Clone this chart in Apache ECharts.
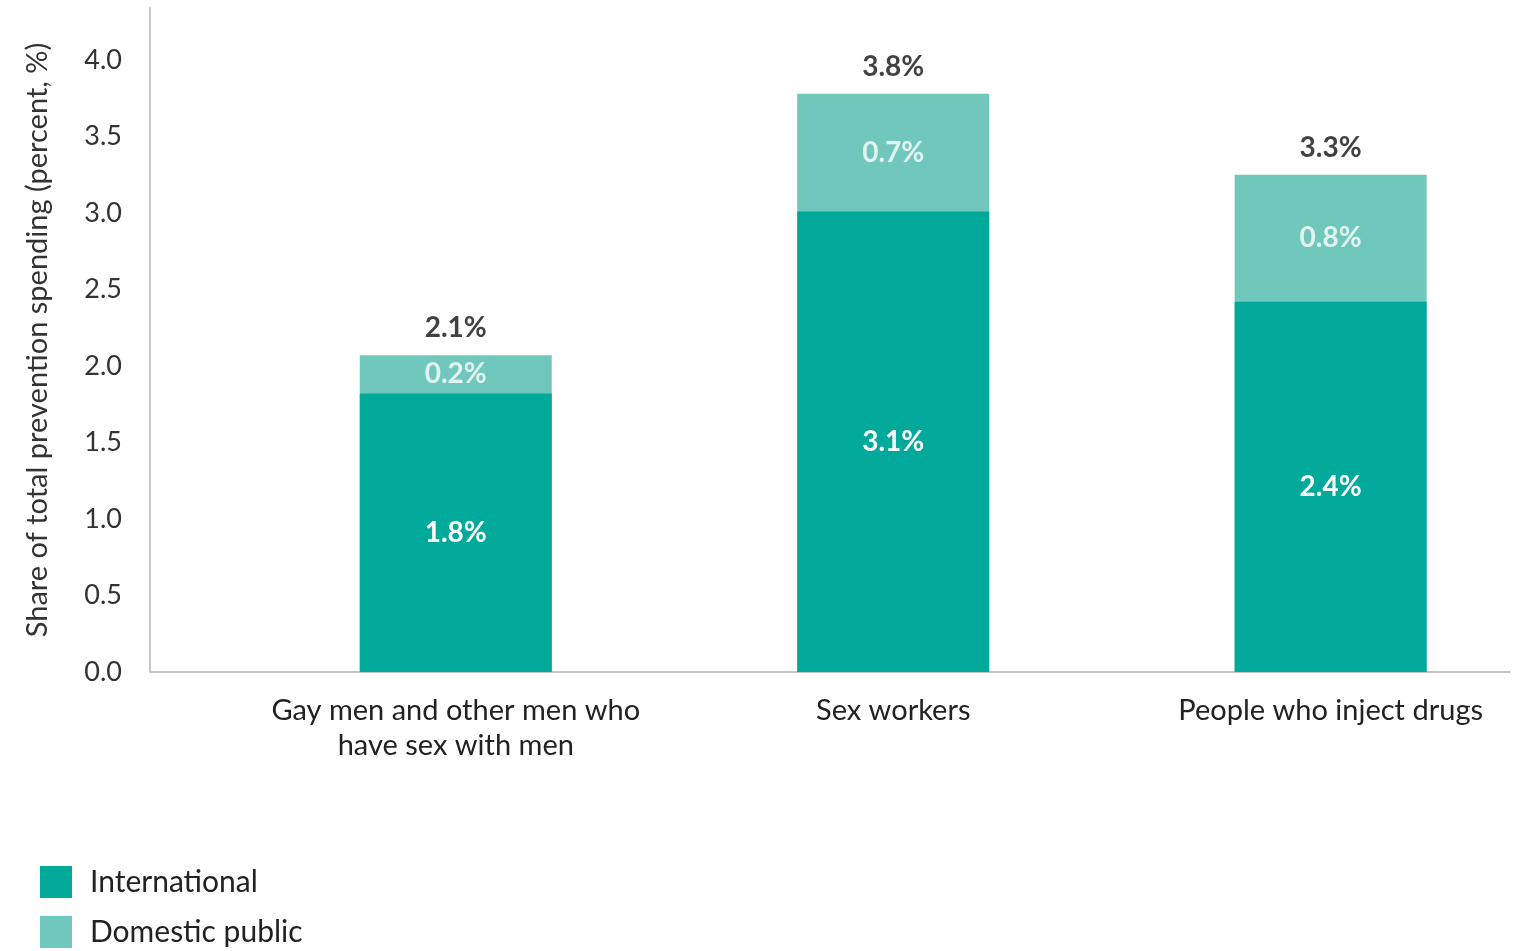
<!DOCTYPE html>
<html>
<head>
<meta charset="utf-8">
<script src="https://cdn.jsdelivr.net/npm/echarts@6/dist/echarts.min.js"></script>
<style>
  html, body { margin: 0; padding: 0; background: #fff; }
  #chart { width: 1518px; height: 951px; }
</style>
</head>
<body>
<div id="chart"></div>
<script>
// data
const categories = ["Gay men and other men who\nhave sex with men", "Sex workers", "People who inject drugs"];
const international = [1.82, 3.01, 2.42];
const domestic = [0.25, 0.77, 0.83];
const intlLabels = ["1.8%", "3.1%", "2.4%"];
const domLabels = ["0.2%", "0.7%", "0.8%"];
const totalLabels = ["2.1%", "3.8%", "3.3%"];
const yTicks = [0, 0.5, 1, 1.5, 2, 2.5, 3, 3.5, 4];

const FONT = "Lato, 'Noto Sans', sans-serif";
const C_INTL = "#00A99A";
const C_DOM = "#70C8BD";

let myChart = echarts.init(document.getElementById("chart"));

const pos = categories.map((c, i) => i);
const totals = international.map((v, i) => v + domestic[i]);

const barLabel = {
	show: true,
	color: "#fff",
	fontSize: 28,
	fontWeight: "bold",
	fontFamily: FONT,
};

let option = {
	animation: false,
	textStyle: { fontFamily: FONT },
	grid: {
		left: 150,
		right: 8,
		top: 8,
		bottom: 279,
	},
	legend: {
		orient: "vertical",
		left: 40,
		top: 866,
		padding: 0,
		itemWidth: 32,
		itemHeight: 32,
		itemGap: 18,
		icon: "rect",
		data: ["International", "Domestic public"],
		textStyle: {
			fontFamily: FONT,
			fontSize: 30,
			color: "#222",
			padding: [0, 0, 0, 13],
		},
	},
	xAxis: {
		type: "value",
		min: -0.699,
		max: 2.41,
		splitLine: { show: false },
		axisTick: { show: false },
		axisLine: { onZero: false, lineStyle: { color: "#c6c6c6", width: 2 } },
		axisLabel: {
			customValues: pos,
			margin: 21,
			fontSize: 29,
			lineHeight: 35,
			color: "#222",
			fontFamily: FONT,
			formatter: (v) => categories[Math.round(v)] || "",
		},
	},
	yAxis: {
		type: "value",
		min: 0,
		max: 4.34,
		interval: 0.5,
		name: "Share of total prevention spending (percent, %)",
		nameLocation: "middle",
		nameGap: 98,
		nameTextStyle: { fontSize: 29, color: "#333", fontFamily: FONT },
		splitLine: { show: false },
		axisTick: { show: false },
		axisLine: { show: true, onZero: false, lineStyle: { color: "#c6c6c6", width: 2 } },
		axisLabel: {
			customValues: yTicks,
			margin: 28,
			fontSize: 27,
			color: "#333",
			fontFamily: FONT,
			formatter: (v) => v.toFixed(1),
		},
	},
	series: [
		{
			// domestic sits on top of international: drawn as full stack height, international drawn over it
			name: "Domestic public",
			type: "bar",
			barWidth: 192,
			itemStyle: { color: C_DOM },
			data: totals.map((v, i) => [pos[i], v]),
			z: 2,
		},
		{
			name: "International",
			type: "bar",
			barWidth: 192,
			barGap: "-100%",
			itemStyle: { color: C_INTL },
			data: international.map((v, i) => [pos[i], v]),
			z: 3,
			label: Object.assign({}, barLabel, {
				position: "inside",
				formatter: (p) => intlLabels[p.dataIndex],
			}),
		},
		{
			// domestic segment labels, centred in each segment
			name: "domLabel",
			type: "scatter",
			symbolSize: 0,
			z: 5,
			data: domestic.map((v, i) => [pos[i], international[i] + v / 2]),
			label: Object.assign({}, barLabel, {
				position: "inside",
				formatter: (p) => domLabels[p.dataIndex],
			}),
		},
		{
			// totals above bars
			name: "Total",
			type: "scatter",
			symbolSize: 0,
			z: 5,
			data: totals.map((v, i) => [pos[i], v]),
			label: Object.assign({}, barLabel, {
				position: "top",
				distance: 13,
				color: "#111",
				formatter: (p) => totalLabels[p.dataIndex],
			}),
		},
	],
};
myChart.setOption(option);
</script>
</body>
</html>
